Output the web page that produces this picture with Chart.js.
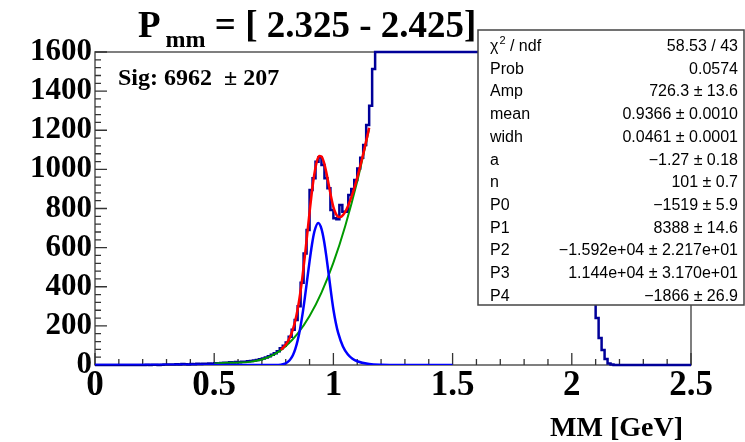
<!DOCTYPE html>
<html>
<head>
<meta charset="utf-8">
<script src="https://cdn.jsdelivr.net/npm/chart.js@4.4.1/dist/chart.umd.min.js"></script>
<style>
  html, body { margin: 0; padding: 0; background: #fff; }
  #wrap { width: 745px; height: 442px; position: relative; }
</style>
</head>
<body>
<div id="wrap"><canvas id="mmChart"></canvas></div>
<script>
// histogram: 200 bins from 0 to 2.5 GeV (bins above 1600 are clipped at the frame)
const BIN_WIDTH = 0.0125;
const counts = [
    0, 0, 0, 0, 0, 0, 0, 0, 0, 0, 0, 0, 0, 0, 0, 0,
    0, 1, 0, 1, 1, 0, 1, 2,
    2, 3, 2, 4, 3, 5, 4, 3,
    5, 4, 6, 5, 7, 6, 8, 7,
    9, 8, 10, 12, 11, 14, 13, 15, 14, 17,
    16, 19, 21, 23, 26, 29, 33, 38, 45, 52, 60, 70,
    85, 98, 115, 145, 180, 230, 300, 420, 570,
    690, 895, 954, 1039, 1062, 1022, 954, 903, 792,
    750, 745, 818, 784, 784, 869, 900, 946, 1005, 1060,
    1125, 1227, 1325, 1513,
    1600, 1600, 1600, 1600, 1600, 1600, 1600, 1600, 1600, 1600,
    1600, 1600, 1600, 1600, 1600, 1600, 1600, 1600, 1600, 1600,
    1600, 1600, 1600, 1600, 1600, 1600, 1600, 1600, 1600, 1600,
    1600, 1600, 1600, 1600, 1600, 1600, 1600, 1600, 1600, 1600,
    1600, 1600, 1600, 1600, 1600, 1600, 1600, 1600, 1600, 1600,
    1600, 1600, 1600, 1600, 1600, 1600, 1600, 1600, 1600, 1600,
    1600, 1600, 1600, 1600, 1600, 1600, 1600, 1600, 1600, 1600,
    1600, 1600, 1600,
    700, 240, 138, 77, 31, 8, 2,
    0, 0, 0, 0, 0, 0, 0, 0, 0, 0, 0, 0, 0,
    0, 0, 0, 0, 0, 0, 0, 0, 0, 0, 0, 0, 0
];

// signal (blue)
const sigX = [0, 0.5, 0.7, 0.75, 0.78, 0.79, 0.8, 0.81, 0.82, 0.83, 0.84, 0.85, 0.86, 0.87, 0.88, 0.89, 0.9, 0.91, 0.92, 0.9366,
              0.95, 0.96, 0.97, 0.98, 0.99, 0.995, 1.0, 1.01, 1.02, 1.04, 1.06, 1.08, 1.1, 1.15, 1.2, 1.3, 1.5];
const sigY = [0, 0, 0, 0.2, 1.5, 4.6, 9, 17, 30, 50, 81, 125, 183, 256, 342, 436, 530, 615, 681, 726,
              696, 639, 559, 466, 371, 325, 284, 216, 164, 95, 55, 32, 19, 5, 1.3, 0.2, 0];

// background (green)
const bkgX = [0.5, 0.55, 0.6, 0.65, 0.7, 0.75, 0.8, 0.85, 0.9, 0.95, 1.0, 1.05, 1.1, 1.15];
const bkgY = [8, 11, 12, 16, 28, 53, 96, 160, 250, 370, 523, 712, 939, 1208];

// total fit (red)
const totX = [0.78, 0.79, 0.8, 0.81, 0.82, 0.83, 0.84, 0.85, 0.86, 0.87, 0.88, 0.89, 0.9, 0.91, 0.92, 0.93, 0.94, 0.95,
              0.96, 0.97, 0.98, 0.99, 1.0, 1.01, 1.02, 1.03, 1.04, 1.05, 1.06, 1.08, 1.1, 1.125, 1.15];
const totY = [78, 90, 105, 123, 148, 182, 226, 285, 359, 449, 553, 666, 780, 887, 975, 1038, 1069, 1066,
              1037, 986, 924, 861, 807, 774, 758, 757, 766, 784, 809, 875, 958, 1078, 1213];

const xTicks = [0, 0.5, 1, 1.5, 2, 2.5];
const yTicks = [0, 200, 400, 600, 800, 1000, 1200, 1400, 1600];

const statNames = ['Prob', 'Amp', 'mean', 'widh', 'a', 'n', 'P0', 'P1', 'P2', 'P3', 'P4'];
const statValues = ['58.53 / 43', '0.0574', '726.3 \u00b1 13.6', '0.9366 \u00b1 0.0010', '0.0461 \u00b1 0.0001',
                    '\u22121.27 \u00b1 0.18', '101 \u00b1 0.7', '\u22121519 \u00b1 5.9', '8388 \u00b1 14.6',
                    '\u22121.592e+04 \u00b1 2.217e+01', '1.144e+04 \u00b1 3.170e+01', '\u22121866 \u00b1 26.9'];

const titleMain = 'P';
const titleSub = 'mm';
const titleRest = ' = [ 2.325 - 2.425]';
const sigText = 'Sig: 6962  \u00b1 207';
const xTitle = 'MM [GeV]';

const SERIF = "'Liberation Serif', 'DejaVu Serif', serif";
const SANS = "'Liberation Sans', Arial, sans-serif";

const histData = counts.map((c, i) => ({ x: i * BIN_WIDTH, y: c }));
histData.push({ x: counts.length * BIN_WIDTH, y: counts[counts.length - 1] });

const toPoints = (xs, ys) => xs.map((x, i) => ({ x: x, y: ys[i] }));

// frame, inward ticks, stats box and texts
const rootStyle = {
    id: 'rootStyle',
    beforeDatasetsDraw(chart) {
        const { ctx, chartArea: a, scales: { x, y } } = chart;
        ctx.save();
        ctx.strokeStyle = '#555';
        ctx.lineWidth = 1.5;
        ctx.strokeRect(a.left, a.top, a.right - a.left, a.bottom - a.top);

        ctx.strokeStyle = '#333';
        ctx.lineWidth = 1.3;
        ctx.beginPath();
        for (let k = 0; k <= 40; k++) {
            const py = y.getPixelForValue(k * 40);
            const len = k % 5 === 0 ? 12 : 6;
            ctx.moveTo(a.left, py);
            ctx.lineTo(a.left + len, py);
        }
        for (let k = 0; k <= 25; k++) {
            const px = x.getPixelForValue(k * 0.1);
            const len = k % 5 === 0 ? 12 : 6;
            ctx.moveTo(px, a.bottom);
            ctx.lineTo(px, a.bottom - len);
        }
        ctx.stroke();
        ctx.restore();
    },
    afterDraw(chart) {
        const ctx = chart.ctx;
        ctx.save();

        // stats box
        const bx = 478, by = 30, bw = 266, bh = 275;
        ctx.fillStyle = '#fff';
        ctx.fillRect(bx, by, bw, bh);
        ctx.strokeStyle = '#444';
        ctx.lineWidth = 1.5;
        ctx.strokeRect(bx, by, bw, bh);

        ctx.fillStyle = '#000';
        ctx.textBaseline = 'alphabetic';
        const rowH = 22.7;
        const firstBase = 51;
        // chi2 row
        ctx.font = '16px ' + SANS;
        ctx.textAlign = 'left';
        ctx.fillText('\u03c7', 490, firstBase);
        let cx = 490 + ctx.measureText('\u03c7').width;
        ctx.font = '11px ' + SANS;
        ctx.fillText('2', cx + 1, firstBase - 7);
        cx += ctx.measureText('2').width + 1;
        ctx.font = '16px ' + SANS;
        ctx.fillText(' / ndf', cx, firstBase);
        statNames.forEach((name, i) => {
            ctx.fillText(name, 490, firstBase + (i + 1) * rowH);
        });
        ctx.textAlign = 'right';
        statValues.forEach((val, i) => {
            ctx.fillText(val, 738, firstBase + i * rowH);
        });

        // title with subscript
        ctx.textAlign = 'left';
        ctx.font = 'bold 37px ' + SERIF;
        ctx.fillText(titleMain, 138, 37);
        let tx = 138 + ctx.measureText(titleMain).width + 5;
        ctx.font = 'bold 24px ' + SERIF;
        ctx.fillText(titleSub, tx, 47);
        tx += ctx.measureText(titleSub).width;
        ctx.font = 'bold 37px ' + SERIF;
        ctx.fillText(titleRest, tx, 37);

        // signal yield
        ctx.font = 'bold 24px ' + SERIF;
        ctx.fillText(sigText, 118, 85);

        // x axis title
        ctx.textAlign = 'right';
        ctx.font = 'bold 28px ' + SERIF;
        ctx.fillText(xTitle, 683, 436);

        ctx.restore();
    }
};

new Chart(document.getElementById('mmChart'), {
    type: 'line',
    data: {
        datasets: [
            {
                label: 'total',
                data: toPoints(totX, totY),
                borderColor: '#ff0000',
                borderWidth: 2.5,
                pointRadius: 0,
                cubicInterpolationMode: 'monotone',
                order: 1
            },
            {
                label: 'signal',
                data: toPoints(sigX, sigY),
                borderColor: '#0000ff',
                borderWidth: 2.5,
                pointRadius: 0,
                cubicInterpolationMode: 'monotone',
                order: 2
            },
            {
                label: 'background',
                data: toPoints(bkgX, bkgY),
                borderColor: '#009900',
                borderWidth: 2,
                pointRadius: 0,
                cubicInterpolationMode: 'monotone',
                order: 3
            },
            {
                label: 'data',
                data: histData,
                borderColor: '#000099',
                borderWidth: 2.5,
                pointRadius: 0,
                stepped: true,
                clip: false,
                order: 4
            }
        ]
    },
    options: {
        responsive: true,
        maintainAspectRatio: false,
        animation: false,
        devicePixelRatio: 1,
        layout: { padding: { top: 52, right: 54, left: 0, bottom: 0 } },
        plugins: {
            legend: { display: false },
            tooltip: { enabled: false }
        },
        scales: {
            x: {
                type: 'linear',
                min: 0,
                max: 2.5,
                grid: { display: false, drawTicks: false },
                border: { display: false },
                afterBuildTicks: s => { s.ticks = xTicks.map(v => ({ value: v })); },
                afterFit: s => { s.height = 77; },
                ticks: {
                    color: '#000',
                    padding: 0,
                    maxRotation: 0,
                    autoSkip: false,
                    callback: v => String(v),
                    font: { family: SERIF, size: 35, weight: 'bold' }
                }
            },
            y: {
                min: 0,
                max: 1600,
                grid: { display: false, drawTicks: false },
                border: { display: false },
                afterBuildTicks: s => { s.ticks = yTicks.map(v => ({ value: v })); },
                afterFit: s => { s.width = 95; },
                ticks: {
                    color: '#000',
                    padding: 3,
                    autoSkip: false,
                    callback: v => String(v),
                    font: { family: SERIF, size: 31, weight: 'bold' }
                }
            }
        }
    },
    plugins: [rootStyle]
});
</script>
</body>
</html>
